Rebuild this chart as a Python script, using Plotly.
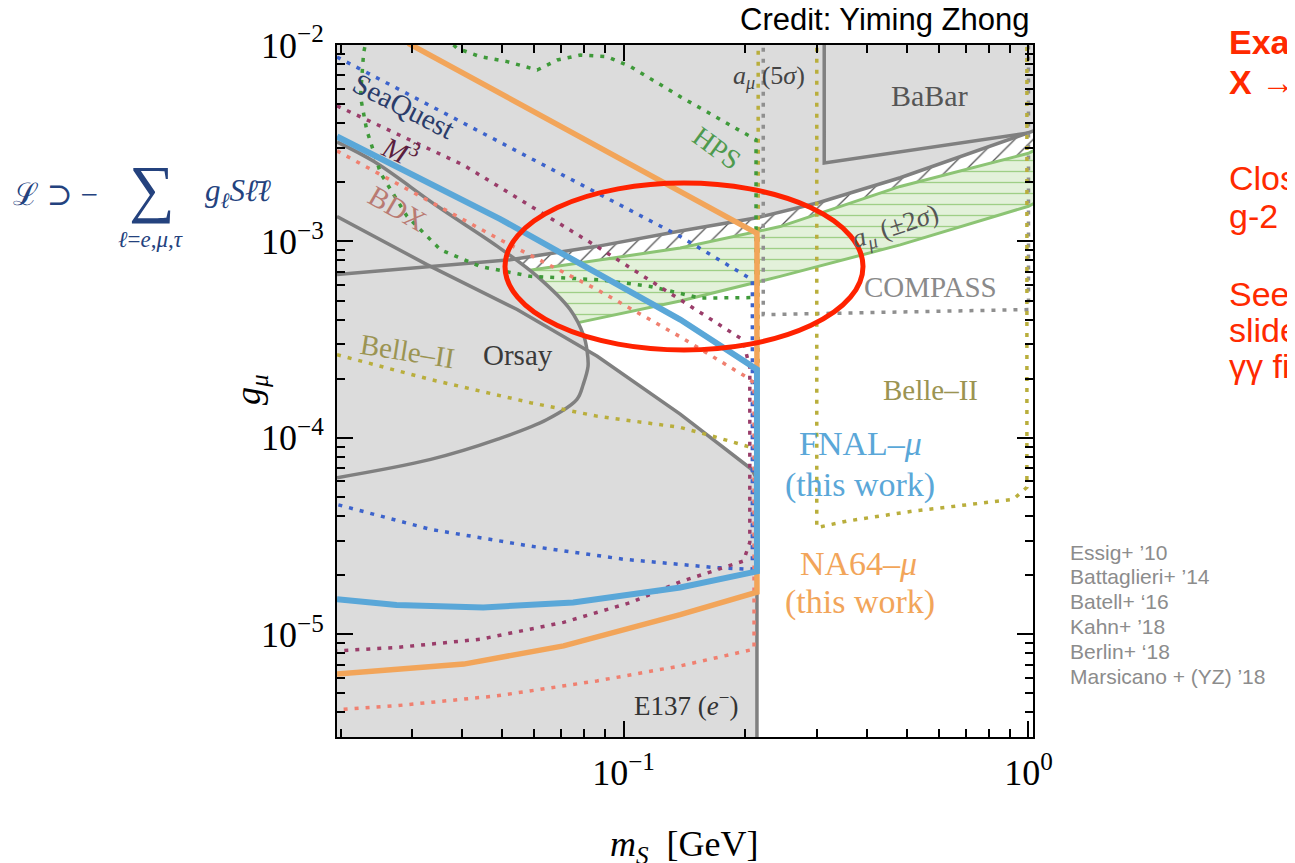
import numpy as np
import plotly.graph_objects as go

# ---------------- data (m_S in GeV, g_mu) ----------------
# a_mu (5 sigma) exclusion boundary
amu5s_m = [0.0196, 0.0327, 0.0525, 0.0861, 0.138, 0.2135, 0.301, 0.482, 1.0, 1.03]
amu5s_g = [6.78e-4, 7.46e-4, 8.07e-4, 9.44e-4, 1.13e-3, 1.32e-3, 1.57e-3, 2.11e-3, 3.57e-3, 3.65e-3]
# a_mu (+-2 sigma) band
band_up_m = [0.045, 0.0598, 0.138, 0.2436, 0.482, 1.0, 1.03]
band_up_g = [6.53e-4, 7.18e-4, 9.25e-4, 1.19e-3, 1.905e-3, 2.81e-3, 2.9e-3]
band_lo_m = [0.045, 0.0767, 0.138, 0.2436, 0.482, 1.0, 1.03]
band_lo_g = [3.13e-4, 3.85e-4, 4.97e-4, 6.64e-4, 9.6e-4, 1.51e-3, 1.56e-3]
# Orsay
orsay_m = [0.0196, 0.0242, 0.0347, 0.0488, 0.0612, 0.0738, 0.0798, 0.0813, 0.0817,
           0.0795, 0.0767, 0.0647, 0.0487, 0.0334, 0.0196]
orsay_g = [3.21e-3, 2.55e-3, 1.51e-3, 9.44e-4, 6.64e-4, 4.50e-4, 3.29e-4, 2.75e-4, 2.31e-4,
           1.87e-4, 1.57e-4, 1.24e-4, 9.82e-5, 7.77e-5, 6.27e-5]
# E137 (e-)
e137_m = [0.0196, 0.0327, 0.0546, 0.0861, 0.138, 0.2075, 0.2135, 0.2135]
e137_g = [1.34e-3, 7.62e-4, 4.50e-4, 2.60e-4, 1.32e-4, 6.9e-5, 6.15e-5, 3.0e-6]
# BaBar
babar_m = [0.313, 0.313, 1.0]
babar_g = [1.1e-2, 2.51e-3, 3.57e-3]
# FNAL-mu (this work)
fnal_m = [0.0196, 0.0496, 0.138, 0.2135, 0.2135, 0.138, 0.0751, 0.045, 0.0275, 0.0196]
fnal_g = [3.42e-3, 1.30e-3, 4.0e-4, 2.23e-4, 2.09e-5, 1.73e-5, 1.45e-5, 1.37e-5, 1.41e-5, 1.51e-5]
# NA64-mu (this work)
na64_m = [0.0294, 0.2135, 0.2135, 0.138, 0.0711, 0.0403, 0.0196]
na64_g = [1.02e-2, 1.10e-3, 1.64e-5, 1.26e-5, 8.73e-6, 7.05e-6, 6.27e-6]
# SeaQuest
seaq_m = [0.0196, 0.138, 0.208, 0.208, 0.166, 0.138, 0.1, 0.0589, 0.0334, 0.0196]
seaq_g = [8.69e-3, 1.06e-3, 6.38e-4, 2.14e-5, 2.19e-5, 2.27e-5, 2.41e-5, 2.81e-5, 3.42e-5, 4.58e-5]
# M^3
m3_m = [0.0196, 0.0402, 0.0861, 0.138, 0.197, 0.205, 0.205, 0.1977, 0.166, 0.138, 0.104,
        0.0711, 0.0443, 0.0275, 0.0196]
m3_g = [4.9e-3, 2.45e-3, 9.4e-4, 5.05e-4, 3.16e-4, 2.28e-4, 2.94e-5, 2.36e-5, 2.1e-5, 1.85e-5,
        1.45e-5, 1.15e-5, 9.44e-6, 8.57e-6, 8.24e-6]
# BDX
bdx_m = [0.0196, 0.0496, 0.0861, 0.138, 0.2018, 0.21, 0.21, 0.2018, 0.166, 0.138, 0.0859,
         0.0487, 0.0275, 0.0196]
bdx_g = [2.89e-3, 1.02e-3, 5.68e-4, 3.27e-4, 2.03e-4, 1.9e-4, 8.4e-6, 8.24e-6, 7.47e-6,
         6.9e-6, 5.79e-6, 4.86e-6, 4.33e-6, 4.13e-6]
# HPS
hps_m = [0.0363, 0.0388, 0.0442, 0.0516, 0.0612, 0.0686, 0.0782, 0.0911, 0.104, 0.118, 0.138,
         0.2124, 0.2124, 0.1545, 0.1164, 0.0876, 0.0589, 0.0442, 0.0353, 0.0292, 0.0251,
         0.0232, 0.0224, 0.0228, 0.0232]
hps_g = [1.09e-2, 9.62e-3, 8.73e-3, 8.23e-3, 7.46e-3, 8.39e-3, 8.89e-3, 8.72e-3, 7.76e-3,
         6.64e-3, 5.46e-3, 3.29e-3, 5.18e-4, 5.15e-4, 5.9e-4, 6.38e-4, 6.64e-4, 7.46e-4,
         9.08e-4, 1.34e-3, 2.23e-3, 3.70e-3, 5.46e-3, 9.08e-3, 1.09e-2]
# Belle-II
belle_l_m = [0.0196, 0.0334, 0.0589, 0.0859, 0.138, 0.166, 0.208, 0.215, 0.215]
belle_l_g = [2.65e-4, 1.98e-4, 1.51e-4, 1.29e-4, 1.13e-4, 1.02e-4, 8.9e-5, 8.9e-5, 1.1e-2]
belle_r_m = [0.300, 0.300, 0.356, 0.519, 0.917, 0.991, 0.991]
belle_r_g = [1.1e-2, 3.49e-5, 3.77e-5, 4.24e-5, 4.86e-5, 5.6e-5, 1.1e-2]
# COMPASS
compass_m = [0.2213, 0.2213, 1.0, 1.0]
compass_g = [1.1e-2, 4.24e-4, 4.5e-4, 1.1e-2]

# axis ticks
x_tickvals = [0.1, 1.0]
x_ticktext = ["10<sup>−1</sup>", "10<sup>0</sup>"]
y_tickvals = [1e-5, 1e-4, 1e-3, 1e-2]
y_ticktext = ["10<sup>−5</sup>", "10<sup>−4</sup>", "10<sup>−3</sup>", "10<sup>−2</sup>"]
XMIN, XMAX = 0.0196, 1.026
YMIN, YMAX = 3e-6, 1e-2

refs = ["Essig+ ’10", "Battaglieri+ ’14", "Batell+ ‘16", "Kahn+ ’18", "Berlin+ ‘18",
        "Marsicano + (YZ) ’18"]

# ---------------- styles ----------------
GRAY_FILL = "#dcdcdc"
GRAY_LINE = "#808080"
SERIF = "Liberation Serif, DejaVu Serif, serif"
SANS = "Liberation Sans, Arial, sans-serif"
DOT = "4px,7px"

fig = go.Figure()


def fill(x, y, color, pattern=None, shape="linear"):
    fig.add_trace(go.Scatter(x=x, y=y, mode="lines", fill="toself", fillcolor=color,
                             line=dict(width=0, color=color, shape=shape),
                             fillpattern=pattern, hoverinfo="skip", showlegend=False))


def line(x, y, color, width, dash=None, shape="linear"):
    fig.add_trace(go.Scatter(x=x, y=y, mode="lines",
                             line=dict(color=color, width=width, dash=dash, shape=shape),
                             hoverinfo="skip", showlegend=False))


# hatched region between a_mu(5 sigma) and the 2 sigma band
fill(amu5s_m + band_up_m[::-1], amu5s_g + band_up_g[::-1], "white",
     pattern=dict(shape="/", fgcolor="#555555", bgcolor="white", size=13, solidity=0.1,
                  fillmode="replace"))
# 2 sigma band
fill(band_up_m + band_lo_m[::-1], band_up_g + band_lo_g[::-1], "#e3f1da",
     pattern=dict(shape="-", fgcolor="#9fcf86", bgcolor="#e3f1da", size=11, solidity=0.12,
                  fillmode="replace"))
line(band_up_m, band_up_g, "#8cc474", 3)
line(band_lo_m, band_lo_g, "#8cc474", 3)

# gray excluded regions
fill(amu5s_m + [amu5s_m[-1], amu5s_m[0]], amu5s_g + [0.011, 0.011], GRAY_FILL)
fill(orsay_m, orsay_g, GRAY_FILL, shape="spline")
fill(e137_m + [e137_m[0]], e137_g + [e137_g[-1]], GRAY_FILL)

# gray boundary lines
line(amu5s_m, amu5s_g, GRAY_LINE, 3.5)
line(orsay_m, orsay_g, GRAY_LINE, 3.5, shape="spline")
line(e137_m, e137_g, GRAY_LINE, 3.5)
line(babar_m, babar_g, GRAY_LINE, 3.5)

# dotted projections
line(compass_m, compass_g, "#8f8f8f", 3.5, DOT)
line(belle_l_m, belle_l_g, "#b9ae3c", 3.5, DOT)
line(belle_r_m, belle_r_g, "#b9ae3c", 3.5, DOT)
line(hps_m, hps_g, "#3f9a3a", 3.5, DOT)
line(seaq_m, seaq_g, "#3c63cc", 3.5, DOT)
line(m3_m, m3_g, "#9a3d6a", 3.5, DOT)
line(bdx_m, bdx_g, "#f08070", 3.5, DOT)

# this work
line(na64_m, na64_g, "#f2a55a", 5.5)
line(fnal_m, fnal_g, "#5aa7d8", 6)

# ---------------- layout helpers (page pixel -> paper) ----------------
# the page body adds an 8px offset; the figure is sized to fill the window exactly
OFF = 8
FIG_W, FIG_H = 1295 - OFF, 863 - OFF
PL, PR, PT, PB = 337, 1033, 45, 737   # plot area in page pixels


def ax(px):
    return (px - PL) / (PR - PL)


def ay(py):
    return (PB - py) / (PB - PT)


ann = []


def text(t, px, py, size, color, angle=0, family=SERIF, xanchor="center"):
    ann.append(dict(text=t, x=ax(px), y=ay(py), xref="paper", yref="paper",
                    showarrow=False, textangle=angle, xanchor=xanchor, yanchor="middle",
                    font=dict(family=family, size=size, color=color)))


text("SeaQuest", 404, 106, 29, "#2b3c6a", 27)
text("<i>M</i><sup>3</sup>", 400, 150, 29, "#5b1f3f", 25)
text("BDX", 397, 208, 29, "#b97a72", 30)
text("HPS", 716, 148, 28, "#4e9a4e", 36)
text("<i>a</i><sub><i>μ</i></sub> (5<i>σ</i>)", 769, 77, 26, "#444444")
text("BaBar", 929, 95, 30, "#555555")
text("<i>a</i><sub><i>μ</i></sub> (±2<i>σ</i>)", 895, 228, 27, "#555555", -18)
text("COMPASS", 930, 287, 29, "#8a8a8a")
text("Belle–II", 407, 351, 29, "#9b9452", 9)
text("Orsay", 518, 355, 29, "#3a3a3a")
text("Belle–II", 930, 390, 29, "#9b9452")
text("FNAL–<i>μ</i>", 860, 443, 34, "#5aa7d8")
text("(this work)", 860, 485, 34, "#5aa7d8")
text("NA64–<i>μ</i>", 858, 563, 34, "#f2a55a")
text("(this work)", 860, 602, 34, "#f2a55a")
text("E137 (<i>e</i><sup>−</sup>)", 686, 704, 27, "#333333")

# axis titles
text("<i>m</i><sub><i>S</i></sub>  [GeV]", 684, 846, 36, "black")
text("<i>g</i><sub><i>μ</i></sub>", 250, 390, 36, "black", -90)

# credit
text("Credit: Yiming Zhong", 884, 20, 31, "black", family=SANS)

# Lagrangian
LCOL = "#24427e"
text("ℒ ⊃ −", 55, 195, 31, LCOL)
text("∑", 152, 188, 64, LCOL)
text("<i>ℓ</i>=<i>e</i>,<i>μ</i>,<i>τ</i>", 150, 240, 23, LCOL)
text("<i>g<sub>ℓ</sub>Sℓ̄ℓ</i>", 238, 193, 31, LCOL)

# red commentary (cut by the page edge)
RED = "#ff2a00"
text("<b>Example:</b>", 1227, 42, 34, RED, family=SANS, xanchor="left")
text("<b>X</b> → γγ", 1227, 82, 34, RED, family=SANS, xanchor="left")
text("Closer to", 1227, 178, 34, RED, family=SANS, xanchor="left")
text("g-2 μ band", 1227, 216, 34, RED, family=SANS, xanchor="left")
text("See backup", 1227, 294, 34, RED, family=SANS, xanchor="left")
text("slides for", 1227, 330, 34, RED, family=SANS, xanchor="left")
text("γγ final state", 1227, 366, 34, RED, family=SANS, xanchor="left")

# references
for i, r in enumerate(refs):
    text(r, 1068, 552 + 24.8 * i, 21, "#8c8c8c", family=SANS, xanchor="left")

minor_x = [m * 10 ** e for e in (-2, -1) for m in range(2, 10)]
minor_y = [m * 10 ** e for e in (-6, -5, -4, -3) for m in range(2, 10)]

axis_common = dict(type="log", showline=True, linecolor="black", linewidth=2,
                   mirror="allticks", ticks="inside", ticklen=16, tickwidth=2,
                   tickcolor="black", showgrid=False, zeroline=False,
                   tickfont=dict(family=SERIF, size=36, color="black"))

fig.update_layout(
    width=FIG_W, height=FIG_H,
    margin=dict(l=PL - OFF, r=1295 - PR, t=PT - OFF, b=863 - PB, pad=0),
    paper_bgcolor="white", plot_bgcolor="white",
    showlegend=False,
    xaxis=dict(range=[np.log10(XMIN), np.log10(XMAX)], tickvals=x_tickvals,
               ticktext=x_ticktext, ticklabelstandoff=3,
               minor=dict(tickvals=minor_x, ticks="inside", ticklen=8, tickwidth=1.5,
                          tickcolor="black", showgrid=False),
               **axis_common),
    yaxis=dict(range=[np.log10(YMIN), np.log10(YMAX)], tickvals=y_tickvals,
               ticktext=y_ticktext, ticklabelstandoff=4,
               minor=dict(tickvals=minor_y, ticks="inside", ticklen=8, tickwidth=1.5,
                          tickcolor="black", showgrid=False),
               **axis_common),
    annotations=ann,
    shapes=[dict(type="circle", xref="paper", yref="paper",
                 x0=ax(505), x1=ax(863), y0=ay(350), y1=ay(183),
                 line=dict(color="#ff2200", width=5))],
)

fig.write_html("out.html")
